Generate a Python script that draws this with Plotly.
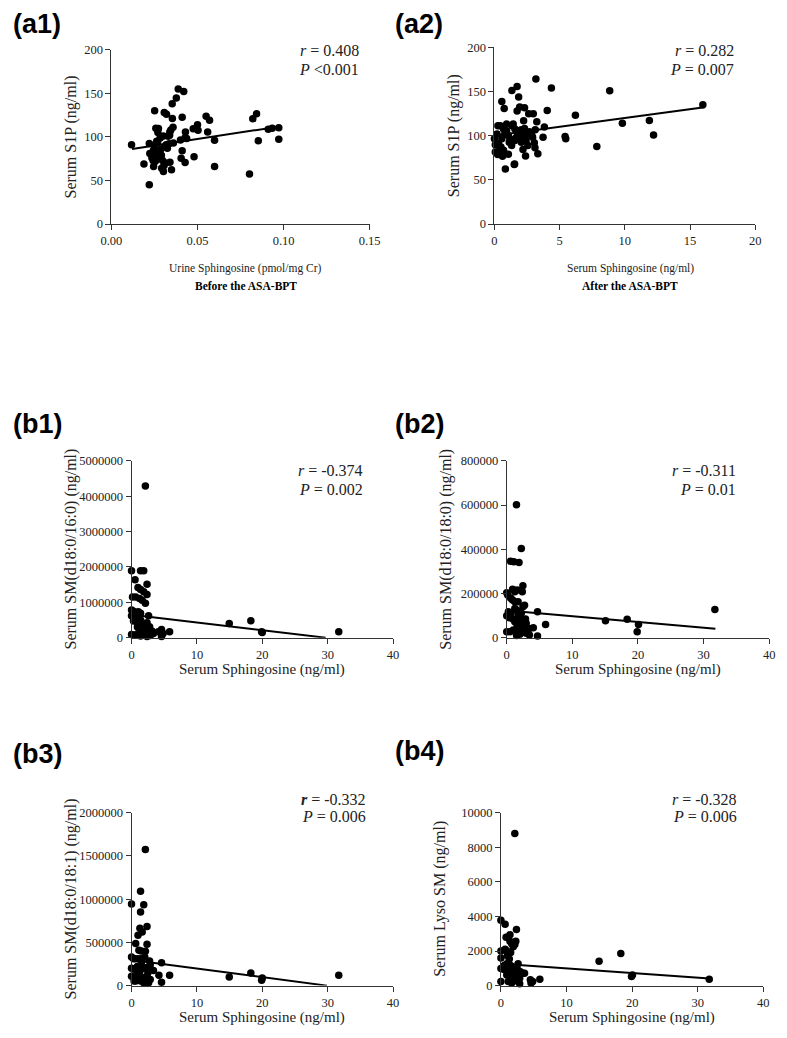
import plotly.graph_objects as go

W, H = 787, 1038

# ---------------- data ----------------
a1_x = [0.0117, 0.022, 0.0189, 0.0251, 0.0388, 0.042, 0.0377, 0.0353, 0.0307, 0.032, 0.0354, 0.0411,
        0.055, 0.057, 0.0258, 0.0273, 0.0358, 0.0339, 0.033, 0.043, 0.0475, 0.05, 0.0503, 0.0559, 0.0599,
        0.0428, 0.0437, 0.0401, 0.0283, 0.0302, 0.022, 0.0249, 0.0268, 0.0411, 0.0405, 0.0428, 0.048,
        0.0599, 0.0302, 0.0292, 0.0349, 0.0245, 0.0802, 0.0821, 0.0843, 0.0853, 0.0911, 0.0934, 0.0972,
        0.0972, 0.0223, 0.0235, 0.0242, 0.0255, 0.0262, 0.027, 0.0275, 0.028, 0.0288, 0.029, 0.0297,
        0.031, 0.0318, 0.0325, 0.0335, 0.034, 0.0338, 0.0345, 0.027, 0.0263, 0.0305, 0.0315, 0.0245, 0.036]
a1_y = [91, 45, 69, 130, 155, 152, 144.5, 138, 128, 126, 121, 122.5,
        123.6, 119, 110, 109.5, 111, 105.5, 100.7, 105.5, 109.4, 114, 107.5, 105.5, 96,
        99, 98, 96.5, 98.8, 101, 92.4, 90.5, 93.5, 84, 75.4, 70.5, 77.3,
        66, 60.3, 64, 62.2, 66, 57.4, 120.8, 126.4, 95.5, 108.7, 110, 110.6,
        97.4, 81, 76, 73, 72, 79, 84, 77, 81, 86, 79, 73,
        89, 91, 87, 92, 71, 102, 108, 105, 95, 67, 70, 85, 93]

a2_x = [3.18, 1.74, 1.34, 4.37, 8.84, 0.57, 1.86, 0.75, 1.74, 1.94, 2.31, 2.63, 2.98, 4.05, 6.21, 15.98,
        11.88, 9.81, 12.2, 5.42, 5.47, 7.85, 3.25, 3.83, 3.13, 3.73, 2.86, 3.06, 3.11, 3.33, 2.39, 1.52,
        0.84, 1.07, 0.62, 0.25, 0.07, 0.0, 0.07, 0.32, 0.4, 0.7, 0.5, 0.27, 0.45, 0.7, 0.94, 0.8, 1.07,
        1.19, 1.37, 1.44, 1.57, 1.74, 1.89, 2.06, 2.19, 2.19, 2.36, 2.43, 2.19, 2.56, 1.69, 1.94, 2.06,
        1.32, 1.57, 1.81, 2.31, 0.94, 1.14, 0.57, 0.2, 2.24, 2.68, 2.93, 1.55]
a2_y = [164, 155.6, 151, 153.7, 150.7, 138.5, 143.7, 130.7, 127.8, 132.2, 131.5, 124.8, 124.8, 128.5, 123, 135,
        117, 114, 100.7, 98.9, 96.3, 87.8, 115.6, 109.6, 106.7, 98, 100, 91.9, 86.3, 79.6, 77, 67.4,
        62.2, 78.9, 76.7, 78.5, 81.5, 96.3, 89.6, 90.7, 83.3, 83.3, 87, 111, 111, 107.4, 105.6, 101.9, 100,
        96.3, 111, 113, 107.4, 104.4, 105.6, 106.7, 101.9, 97, 100, 94.4, 84.4, 88.9, 98.1, 101, 92.6,
        88.9, 94.4, 101.9, 108.1, 113, 92.6, 96.3, 101.9, 116.7, 104.4, 98.1, 68]

b1_x = [2.12, 0, 1.38, 1.87, 0.54, 2.37, 0.99, 1.38, 1.87, 2.37, 0.15, 0.64, 1.23, 1.63, 2.12, 0, 0.3,
        1.04, 1.38, 2.61, 0, 0.64, 0.3, 0.99, 1.38, 1.63, 1.87, 2.37, 2.76, 1.13, 1.63, 2.12, 2.61, 3.11,
        3.35, 4.09, 4.59, 4.83, 5.82, 0, 0.64, 1.38, 1.87, 2.37, 2.86, 4.59, 1.5, 2.0, 2.9, 0.9, 1.2,
        14.95, 18.25, 19.9, 20.0, 31.7]
b1_y = [4290000, 1890000, 1890000, 1890000, 1640000, 1510000, 1420000, 1360000, 1300000, 1220000,
        1150000, 1150000, 1110000, 1060000, 970000, 780000, 750000, 730000, 690000, 620000, 620000,
        540000, 470000, 400000, 500000, 360000, 400000, 420000, 310000, 260000, 210000, 240000, 170000,
        190000, 120000, 170000, 230000, 120000, 170000, 90000, 80000, 50000, 80000, 30000, 60000, 30000,
        150000, 120000, 100000, 300000, 600000, 400000, 480000, 170000, 150000, 170000]

b2_x = [1.48, 2.22, 0.59, 1.08, 1.87, 0.89, 1.58, 1.23, 2.46, 2.37, 0.15, 0, 0.59, 0.89, 1.23, 1.73,
        0.25, 0.64, 1.23, 1.48, 2.71, 2.47, 1.97, 2.22, 1.73, 0, 0.39, 0.99, 1.23, 1.97, 2.47, 2.86,
        2.96, 1.58, 2.22, 2.71, 3.21, 3.45, 4.05, 0.99, 1.38, 1.73, 2.47, 2.96, 3.45, 0, 0.49, 1.5, 2.0,
        4.69, 5.92, 4.69, 15.05, 18.35, 20.08, 19.88, 31.72]
b2_y = [601000, 403000, 346000, 343000, 340000, 219000, 216000, 208000, 235000, 208000, 193000,
        203000, 180000, 170000, 162000, 162000, 117000, 110000, 132000, 125000, 147000, 140000,
        117000, 110000, 99000, 99000, 90000, 83000, 72000, 72000, 80000, 84000, 65000, 57000, 50000,
        57000, 42000, 42000, 45000, 35000, 27000, 35000, 30000, 20000, 12000, 27000, 27000, 10000,
        15000, 117000, 60000, 7500, 77000, 83000, 60000, 27000, 128000]

b3_x = [2.12, 1.38, 1.87, 0, 1.38, 2.37, 1.28, 1.63, 0.99, 0.64, 2.37, 1.13, 1.48, 2.12, 0, 0.3, 0.64,
        1.13, 1.63, 2.02, 2.76, 4.59, 0, 0.39, 0.89, 1.38, 1.87, 2.37, 2.86, 3.35, 0, 0.89, 1.38, 1.87,
        2.37, 2.86, 1.38, 1.87, 1.13, 2.61, 0.64, 4.19, 5.82, 4.59, 0.39, 14.95, 18.25, 19.9, 20.0,
        31.7, 1.5, 2.5]
b3_y = [1573000, 1090000, 935000, 943000, 850000, 683000, 664000, 620000, 583000, 486000, 479000,
        410000, 400000, 397000, 330000, 310000, 310000, 310000, 310000, 330000, 286000, 263000,
        200000, 190000, 220000, 180000, 200000, 210000, 240000, 174000, 108000, 126000, 108000,
        89000, 108000, 70000, 52000, 33000, 70000, 33000, 52000, 119000, 119000, 40000, 52000,
        100000, 145000, 63000, 89000, 119000, 250000, 150000]

b4_x = [2.12, 0, 0.64, 2.37, 1.38, 0.99, 0.79, 2.27, 2.12, 1.38, 1.63, 1.88, 1.48, 0, 0.64, 0.89, 0,
        0.99, 1.28, 0.89, 0.49, 1.48, 1.78, 2.62, 0.15, 0.49, 0, 1.23, 1.63, 2.12, 2.62, 2.96, 3.36,
        3.6, 0.89, 1.28, 1.87, 2.37, 2.86, 1.48, 2.12, 2.61, 1.13, 1.63, 2.86, 0, 4.49, 4.84, 4.59,
        5.93, 14.96, 18.27, 19.9, 20.05, 31.75]
b4_y = [8790, 3777, 3550, 3250, 2940, 2790, 2790, 2565, 2380, 2565, 2420, 2250, 1915, 2007, 2100,
        2007, 1600, 1730, 1540, 1264, 1170, 1170, 1078, 1264, 985, 930, 985, 890, 800, 985, 890, 800,
        710, 710, 610, 520, 520, 610, 430, 370, 300, 240, 240, 150, 110, 240, 335, 240, 150, 370,
        1412, 1858, 520, 613, 370]

# regression lines as drawn (end points)
a1_fit_x, a1_fit_y = [0.012, 0.098], [86, 112]
a2_fit_x, a2_fit_y = [0.0, 16.1], [100, 132]
b1_fit_x, b1_fit_y = [0.0, 29.7], [650000, 0]
b2_fit_x, b2_fit_y = [0.5, 31.8], [122000, 40000]
b3_fit_x, b3_fit_y = [0.0, 29.9], [295000, 0]
b4_fit_x, b4_fit_y = [1.0, 31.8], [1240, 410]

# tick labels
a1_xticks = [0.0, 0.05, 0.10, 0.15]
a_yticks = [0, 50, 100, 150, 200]
a2_xticks = [0, 5, 10, 15, 20]
b_xticks = [0, 10, 20, 30, 40]
b1_yticks = [0, 1000000, 2000000, 3000000, 4000000, 5000000]
b2_yticks = [0, 200000, 400000, 600000, 800000]
b3_yticks = [0, 500000, 1000000, 1500000, 2000000]
b4_yticks = [0, 2000, 4000, 6000, 8000, 10000]

stats = {
    "a1": ("<i>r</i> = 0.408", "<i>P</i> &lt;0.001"),
    "a2": ("<i>r</i> = 0.282", "<i>P</i> = 0.007"),
    "b1": ("<i>r</i> = -0.374", "<i>P</i> = 0.002"),
    "b2": ("<i>r</i> = -0.311", "<i>P</i> = 0.01"),
    "b3": ("<b><i>r</i></b> = -0.332", "<i>P</i> = 0.006"),
    "b4": ("<i>r</i> = -0.328", "<i>P</i> = 0.006"),
}

# ---------------- layout geometry (pixels) ----------------
def fx(p):
    return p / W

def fy(p):
    return 1 - p / H

SERIF = "Liberation Serif"
SANS = "Liberation Sans"
LINE = "#333333"
TXT = "#222222"

panels = [
    ("a1", a1_x, a1_y, a1_fit_x, a1_fit_y, (103.3, 369, 43.3, 220), [0, 0.15], [0, 200], a1_xticks, a_yticks, ".2f",
     "Serum S1P (ng/ml)"),
    ("a2", a2_x, a2_y, a2_fit_x, a2_fit_y, (497.3, 765.7, 40.7, 220), [0, 20], [0, 200], a2_xticks, a_yticks, "d",
     "Serum S1P (ng/ml)"),
    ("b1", b1_x, b1_y, b1_fit_x, b1_fit_y, (124, 393, 460, 639.3), [0, 40], [0, 5000000], b_xticks, b1_yticks, "d",
     "Serum SM(d18:0/16:0) (ng/ml)"),
    ("b2", b2_x, b2_y, b2_fit_x, b2_fit_y, (510, 780, 460, 639.3), [0, 40], [0, 800000], b_xticks, b2_yticks, "d",
     "Serum SM(d18:0/18:0) (ng/ml)"),
    ("b3", b3_x, b3_y, b3_fit_x, b3_fit_y, (124, 393, 816.7, 992), [0, 40], [0, 2000000], b_xticks, b3_yticks, "d",
     "Serum SM(d18:0/18:1) (ng/ml)"),
    ("b4", b4_x, b4_y, b4_fit_x, b4_fit_y, (504, 774, 816.7, 992), [0, 40], [0, 10000], b_xticks, b4_yticks, "d",
     "Serum Lyso SM (ng/ml)"),
]

fig = go.Figure()
annotations = []
layout = dict(width=W, height=H, margin=dict(l=0, r=0, t=0, b=0),
              paper_bgcolor="white", plot_bgcolor="white", showlegend=False)

for i, (key, xs, ys, fxs, fys, box, xr, yr, xt, yt, xfmt, ytitle) in enumerate(panels):
    n = "" if i == 0 else str(i + 1)
    x0, x1, yt0, yb0 = box
    fig.add_trace(go.Scatter(x=xs, y=ys, mode="markers", xaxis="x" + n, yaxis="y" + n,
                             marker=dict(size=7.5, color="black"), cliponaxis=False))
    fig.add_trace(go.Scatter(x=fxs, y=fys, mode="lines", xaxis="x" + n, yaxis="y" + n,
                             line=dict(color="black", width=2), cliponaxis=False))
    common = dict(showline=True, linecolor=LINE, linewidth=1, ticks="outside", ticklen=5,
                  tickcolor=LINE, tickwidth=1, showgrid=False, zeroline=False,
                  tickfont=dict(family=SERIF, size=12.5, color=TXT))
    layout["xaxis" + n] = dict(domain=[fx(x0), fx(x1)], anchor="y" + n, range=xr,
                               tickmode="array", tickvals=xt,
                               ticktext=[format(v, xfmt) if xfmt != "d" else str(int(v)) for v in xt],
                               **common)
    layout["yaxis" + n] = dict(domain=[fy(yb0), fy(yt0)], anchor="x" + n, range=yr,
                               tickmode="array", tickvals=yt, ticktext=[str(int(v)) for v in yt],
                               **common)
    annotations.append(dict(text=ytitle, xref="paper", yref="paper",
                            x=fx(x0 - 42 if key.startswith("a") else x0 - 62),
                            y=fy((yt0 + yb0) / 2), textangle=-90, showarrow=False,
                            xanchor="center", yanchor="middle",
                            font=dict(family=SERIF, size=16, color=TXT)))
    r_txt, p_txt = stats[key]
    if key.startswith("a"):
        rx, ry1, ry2 = (360 if key == "a1" else 746), 44, 63
    elif key in ("b1", "b2"):
        rx, ry1, ry2 = (364 if key == "b1" else 748), 470, 489
    else:
        rx, ry1, ry2 = (367 if key == "b3" else 749), 803, 821
    for txt, yy in ((r_txt, ry1), (p_txt, ry2)):
        annotations.append(dict(text=txt, xref="paper", yref="paper", x=fx(rx), y=fy(yy),
                                xanchor="right", yanchor="middle", showarrow=False,
                                font=dict(family=SERIF, size=16, color=TXT)))

for lab, px, py in (("(a1)", 0, 17), ("(a2)", 393, 17), ("(b1)", 0, 423), ("(b2)", 393, 423),
                    ("(b3)", 0, 757), ("(b4)", 393, 754)):
    annotations.append(dict(text="<b>" + lab + "</b>", xref="paper", yref="paper", x=fx(px), y=fy(py),
                            xanchor="left", yanchor="middle", showarrow=False,
                            font=dict(family=SANS, size=27, color="black")))

for t1, t2, cx in (("Urine Sphingosine (pmol/mg Cr)", "Before the ASA-BPT", 241.7),
                   ("Serum Sphingosine (ng/ml)", "After the ASA-BPT", 637)):
    annotations.append(dict(text=t1, xref="paper", yref="paper", x=fx(cx), y=fy(265), showarrow=False,
                            xanchor="center", yanchor="middle", font=dict(family=SERIF, size=11.5, color=TXT)))
    annotations.append(dict(text="<b>" + t2 + "</b>", xref="paper", yref="paper", x=fx(cx), y=fy(283),
                            showarrow=False, xanchor="center", yanchor="middle",
                            font=dict(family=SERIF, size=11.5, color="black")))
for cx, cy in ((258.5, 672), (645, 672), (258.5, 1024.5), (639, 1024.5)):
    annotations.append(dict(text="Serum Sphingosine (ng/ml)", xref="paper", yref="paper", x=fx(cx), y=fy(cy),
                            showarrow=False, xanchor="center", yanchor="middle",
                            font=dict(family=SERIF, size=15, color=TXT)))

layout["annotations"] = annotations
fig.update_layout(**layout)
fig.write_html("out.html", config={"displayModeBar": False},
               post_script="document.body.style.margin='0';")
